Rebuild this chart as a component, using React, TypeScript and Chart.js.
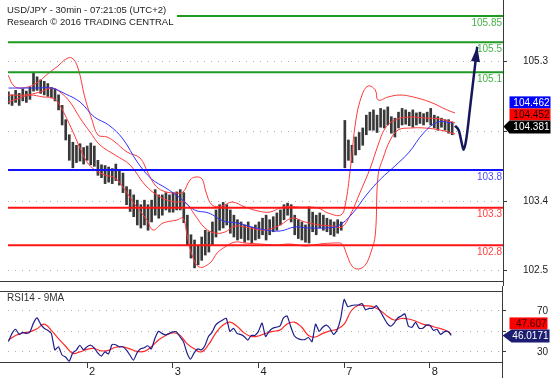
import { useEffect, useRef } from 'react';
import { Chart, registerables } from 'chart.js';

Chart.register(...registerables);

const FONT = '"Liberation Sans", Arial, Helvetica, sans-serif';

// ---- time axis (hours since the start of the first session shown) ----
const X_MIN = 1.87;
const X_MAX = 140.2;
const dayTickHours = [24, 48, 72, 96, 120];
const dayTickLabels = ['2', '3', '4', '7', '8'];

// ---- USD/JPY bars (one per hour, starting at hour 2) ----
const FIRST_BAR_HOUR = 2;
const barHighs = [
  104.84, 104.8, 104.86, 104.82, 104.88, 104.85, 104.9, 105.09, 105.04, 105.0,
  104.98, 104.95, 104.9, 104.88, 104.8, 104.66, 104.47, 104.27, 104.17, 104.13,
  104.15, 104.1, 104.12, 104.16, 104.12, 103.93, 103.87, 103.86, 103.84, 103.82,
  103.88, 103.8, 103.76, 103.58, 103.54, 103.47, 103.4, 103.34, 103.4, 103.34,
  103.4, 103.54, 103.47, 103.47, 103.5, 103.47, 103.5, 103.51, 103.54, 103.5,
  103.2, 102.94, 102.87, 102.8, 102.91, 103.0, 102.98, 103.11, 103.27, 103.34,
  103.37, 103.34, 103.27, 103.2, 103.14, 103.11, 103.07, 103.11, 103.04, 103.07,
  103.11, 103.16, 103.2, 103.14, 103.18, 103.23, 103.27, 103.34, 103.36, 103.34,
  103.2, 103.14, 103.11, 103.07, 103.31, 103.24, 103.2, 103.23, 103.2, 103.16,
  103.14, 103.11, 103.14, 103.11, 104.46, 104.2, 104.13, 104.24, 104.3, 104.36,
  104.53, 104.57, 104.6, 104.53, 104.62, 104.6, 104.64, 104.51, 104.49, 104.57,
  104.62, 104.6, 104.57, 104.6, 104.56, 104.57, 104.55, 104.57, 104.62, 104.53,
  104.51, 104.49, 104.47, 104.47, 104.44,
];
const barLows = [
  104.68, 104.66, 104.7, 104.66, 104.72, 104.7, 104.74, 104.85, 104.86, 104.82,
  104.8, 104.78, 104.76, 104.72, 104.6, 104.4, 104.2, 103.93, 103.83, 103.9,
  103.92, 103.88, 103.93, 103.87, 103.85, 103.73, 103.7, 103.62, 103.64, 103.62,
  103.66, 103.6, 103.5, 103.34, 103.25, 103.18, 103.07, 103.03, 103.07, 103.0,
  103.11, 103.2, 103.16, 103.2, 103.27, 103.24, 103.24, 103.27, 103.27, 103.1,
  102.8, 102.63, 102.5, 102.54, 102.6, 102.67, 102.71, 102.8, 102.91, 103.0,
  103.03, 103.07, 102.96, 102.91, 102.87, 102.89, 102.84, 102.87, 102.83, 102.87,
  102.89, 102.94, 102.87, 102.94, 102.98, 103.0, 103.07, 103.14, 103.2, 103.11,
  102.94, 102.89, 102.87, 102.84, 102.83, 102.98, 102.94, 103.03, 103.0, 102.98,
  102.94, 102.92, 102.96, 103.0, 103.83, 103.93, 103.9, 104.0, 104.07, 104.13,
  104.27, 104.33, 104.33, 104.3, 104.37, 104.36, 104.4, 104.29, 104.24, 104.36,
  104.4, 104.41, 104.39, 104.37, 104.4, 104.42, 104.4, 104.44, 104.4, 104.36,
  104.33, 104.37, 104.33, 104.29, 104.27,
];

// ---- Bollinger bands (red) ----
const upperBandHours = [
  1.87, 3.54, 5.78, 9.41, 13.6, 15.84, 18.08, 19.76, 21.43, 23.39, 25.35, 27.03, 29.54,
  31.78, 35.13, 38.76, 41.0, 42.96, 45.2, 48.55, 50.78, 52.74, 54.42, 56.1, 57.2, 58.9,
  61.7, 64.5, 68.1, 71.75, 75.1, 78.7, 83.5, 88.5, 91.3, 94.9, 96.1, 97.5, 99.1, 100.8,
  102.5, 104.5, 105.3, 108.1, 111.4, 115.1, 119.8, 124.6, 126.8,
];
const upperBandPrices = [
  105.064, 104.918, 104.891, 104.944, 105.104, 105.184, 105.277, 105.29, 105.157, 104.758,
  104.466, 104.266, 104.24, 104.173, 104.04, 103.96, 103.761, 103.601, 103.522, 103.495,
  103.508, 103.668, 103.708, 103.681, 103.508, 103.335, 103.322, 103.375, 103.309, 103.256,
  103.242, 103.309, 103.309, 103.296, 103.229, 103.202, 103.335, 103.801, 104.466, 104.798,
  104.918, 104.865, 104.732, 104.772, 104.798, 104.772, 104.705, 104.599, 104.559,
];
const middleBandHours = [
  1.87, 6.62, 10.8, 14.2, 16.4, 19.2, 22.0, 24.8, 27.6, 31.8, 36.0, 40.2, 44.4, 48.5,
  51.3, 54.1, 56.9, 59.7, 62.5, 65.3, 69.5, 73.7, 77.9, 81.3, 84.9, 89.1, 92.7, 95.2,
  97.5, 100.3, 103.1, 105.3, 107.3, 110.0, 114.2, 118.4, 122.6, 126.8,
];
const middleBandPrices = [
  104.798, 104.798, 104.838, 104.891, 104.838, 104.705, 104.492, 104.306, 104.133, 104.0,
  103.867, 103.601, 103.442, 103.375, 103.375, 103.202, 103.03, 102.963, 102.976, 103.056,
  103.03, 103.003, 103.069, 103.162, 103.109, 103.069, 103.056, 103.043, 103.202, 103.508,
  103.827, 104.133, 104.359, 104.466, 104.506, 104.492, 104.479, 104.426,
];
const lowerBandHours = [
  1.87, 5.22, 8.02, 11.65, 14.2, 15.84, 17.8, 20.04, 22.0, 23.95, 26.2, 29.0, 31.8,
  34.57, 37.4, 40.7, 42.4, 45.2, 49.1, 50.8, 51.9, 53.3, 55.3, 58.3, 60.3, 62.5, 65.3,
  68.1, 72.3, 76.5, 80.7, 84.9, 89.1, 93.3, 95.2, 96.6, 98.0, 99.7, 101.7, 103.3, 104.5,
  105.3, 106.7, 108.7, 110.9, 114.3, 118.4, 122.6, 126.8,
];
const lowerBandPrices = [
  104.705, 104.758, 104.798, 104.772, 104.76, 104.7, 104.532, 104.306, 104.093, 103.907,
  103.801, 103.734, 103.694, 103.535, 103.335, 103.136, 103.003, 103.096, 103.136, 103.162,
  102.936, 102.67, 102.511, 102.564, 102.697, 102.777, 102.843, 102.83, 102.817, 102.803,
  102.817, 102.79, 102.817, 102.83, 102.817, 102.67, 102.524, 102.484, 102.537, 102.71,
  102.936, 103.734, 103.96, 104.2, 104.333, 104.359, 104.359, 104.333, 104.28,
];

// ---- moving average (blue), every 4 hours from hour 2 ----
const MA_FIRST_HOUR = 2;
const MA_STEP_HOURS = 4;
const maPrices = [
  104.891, 104.891, 104.891, 104.891, 104.811, 104.705, 104.506, 104.399,
  104.213, 103.907, 103.681, 103.561, 103.428, 103.269, 103.229, 103.123,
  103.096, 103.043, 103.003, 102.99, 103.043, 103.03, 103.03, 103.056,
  103.216, 103.468, 103.681, 103.854, 104.04, 104.293, 104.439, 104.426,
];

// ---- key levels ----
const levelPrices = [105.85, 105.5, 105.1, 103.8, 103.3, 102.8];
const levelLabels = ['105.85', '105.5', '105.1', '103.8', '103.3', '102.8'];
const levelColors = ['#1f9a22', '#1f9a22', '#1f9a22', '#1212ff', '#ff1414', '#ff1414'];
const levelTextColors = ['#48b048', '#48b048', '#48b048', '#4a4aff', '#ff4040', '#ff4040'];

// ---- forecast path (navy arrow) ----
const forecastHours = [126.8, 127.9, 128.8, 129.2, 129.9, 131.0, 133.0];
const forecastPrices = [104.39, 104.32, 104.13, 104.07, 104.2, 104.63, 105.44];

// ---- price axis ----
const PRICE_MIN = 102.325;
const PRICE_MAX = 106.035;
const priceTickValues = [102.471, 103.385, 104.319, 105.241];
const priceTickLabels = ['102.5', '103.4', '', '105.3'];
const priceTagValues = [104.462, 104.452, 104.381];
const priceTagBg = ['#0000ff', '#ff0000', '#000000'];
const priceTagFg = ['#ffffff', '#1a0000', '#ffffff'];

// ---- RSI panel ----
const RSI_FIRST_HOUR = 2;
const rsiValues = [
  40, 48, 52, 47, 49, 48, 49.5, 58, 63, 57,
  53, 51, 48, 32, 35, 27, 25, 21, 29, 31.7,
  36.5, 32, 35, 36.5, 34, 29, 26, 30, 28, 37,
  37, 35, 35, 32, 27, 22, 29, 33, 34, 36,
  33, 43, 50, 48, 46.5, 48, 49.5, 49.5, 45, 40,
  29, 23, 29, 33, 32, 36, 45, 49, 56, 59,
  61, 62.6, 50, 53, 48, 47, 45, 41.5, 46, 46,
  50, 58, 45, 50, 53, 54, 55, 63, 65, 55,
  46, 43, 42, 42, 44, 40, 57, 50, 54, 56,
  53, 47, 51, 62, 81, 74, 75, 75.6, 75.6, 77,
  71, 72.3, 72.3, 75, 70, 64, 58, 55, 58, 63,
  65, 67, 55, 54, 59, 53, 53, 56, 56, 51,
  52, 47, 49.5, 50, 46.0171,
];
const RSI_MA_FIRST_HOUR = 2;
const RSI_MA_STEP_HOURS = 2;
const rsiMaValues = [
  41.5, 46, 48.5, 49.5, 52.5, 57, 51, 43, 35.5, 28.5,
  30, 32.5, 33.3, 31, 31.5, 34.5, 35, 33, 30.5, 30.5,
  35, 41.5, 46, 48.6, 46.3, 38, 33, 30, 37, 48,
  56, 59, 55, 48.5, 45, 45.5, 48, 50, 51.2, 57,
  59, 54.5, 46, 44.5, 48, 50.5, 52, 57, 70, 75.3,
  74.8, 74, 70.5, 65, 61, 62.5, 62, 60, 57, 55.5,
  53.5, 51.5, 47.6,
];
const RSI_MIN = 20.2;
const RSI_MAX = 89.2;
const rsiTickValues = [30, 50, 70];
const rsiTickLabels = ['30', '', '70'];
const rsiTagValues = [47.607, 46.0171];
const rsiTagBg = ['#ff0000', '#1c1c70'];
const rsiTagFg = ['#3a0000', '#ffffff'];

const titleLines = ['USD/JPY - 30min - 07:21:05 (UTC+2)', 'Research \u00a9 2016 TRADING CENTRAL'];
const rsiTitle = 'RSI14 - 9MA';

const pts = (xs: number[], ys: number[]) => xs.map((x, i) => ({ x, y: ys[i] }));
const stepPts = (first: number, step: number, ys: number[]) => ys.map((y, i) => ({ x: first + i * step, y }));

const AXIS_COLOR = '#3a3a3a';

const noPad = (s: any) => {
  s.paddingTop = 0;
  s.paddingBottom = 0;
  s.paddingLeft = 0;
  s.paddingRight = 0;
};

const mainDecor = {
  id: 'mainDecor',
  beforeDatasetsDraw(chart: any) {
    const { ctx, chartArea, scales } = chart;
    ctx.save();
    ctx.font = `10px ${FONT}`;
    ctx.textAlign = 'right';
    ctx.textBaseline = 'top';
    levelPrices.forEach((p, i) => {
      ctx.fillStyle = levelTextColors[i];
      ctx.fillText(levelLabels[i], chartArea.right - 1, scales.y.getPixelForValue(p) + 2);
    });
    ctx.restore();
  },
  afterDatasetsDraw(chart: any) {
    const { ctx, chartArea, scales } = chart;
    const xs = scales.x;
    const ys = scales.y;
    ctx.save();
    // arrow head on forecast
    const n = forecastHours.length;
    const tx = xs.getPixelForValue(forecastHours[n - 1]);
    const ty = ys.getPixelForValue(forecastPrices[n - 1]);
    const px = xs.getPixelForValue(forecastHours[n - 2]);
    const py = ys.getPixelForValue(forecastPrices[n - 2]);
    const a = Math.atan2(ty - py, tx - px);
    const len = 15;
    const hw = 4.5;
    ctx.fillStyle = '#16165c';
    ctx.beginPath();
    ctx.moveTo(tx, ty);
    ctx.lineTo(tx - len * Math.cos(a) + hw * Math.sin(a), ty - len * Math.sin(a) - hw * Math.cos(a));
    ctx.lineTo(tx - len * Math.cos(a) - hw * Math.sin(a), ty - len * Math.sin(a) + hw * Math.cos(a));
    ctx.closePath();
    ctx.fill();

    // title block
    ctx.fillStyle = '#ffffff';
    ctx.fillRect(0, 0, 177, 29);
    ctx.fillStyle = '#222';
    ctx.font = `9.5px ${FONT}`;
    ctx.textAlign = 'left';
    ctx.textBaseline = 'top';
    ctx.fillText(titleLines[0], 7, 6);
    ctx.fillText(titleLines[1], 7, 18);

    // axis line full height + bottom border
    const ax = Math.round(ys.left) + 0.5;
    ctx.strokeStyle = AXIS_COLOR;
    ctx.lineWidth = 1;
    ctx.beginPath();
    ctx.moveTo(ax, 0);
    ctx.lineTo(ax, chart.height);
    ctx.moveTo(0, Math.round(chartArea.bottom) + 0.5);
    ctx.lineTo(ax, Math.round(chartArea.bottom) + 0.5);
    ctx.stroke();

    // price tags
    const yb = ys.getPixelForValue(priceTagValues[2]);
    const h = 12;
    const bx = ax + 6;
    const bw = 41;
    const tops = [yb - h / 2 - 2 * h, yb - h / 2 - h, yb - h / 2];
    ctx.font = `10px ${FONT}`;
    ctx.textAlign = 'right';
    ctx.textBaseline = 'middle';
    priceTagValues.forEach((v, i) => {
      ctx.fillStyle = priceTagBg[i];
      if (i === 2) {
        ctx.beginPath();
        ctx.moveTo(ax, yb);
        ctx.lineTo(bx, tops[i]);
        ctx.lineTo(bx + bw, tops[i]);
        ctx.lineTo(bx + bw, tops[i] + h + 1);
        ctx.lineTo(bx, tops[i] + h + 1);
        ctx.closePath();
        ctx.fill();
      } else {
        ctx.fillRect(bx, tops[i], bw, h);
      }
      ctx.fillStyle = priceTagFg[i];
      ctx.fillText(v.toFixed(3), bx + bw - 1, tops[i] + h / 2 + 0.5);
    });
    ctx.restore();
  },
};

const rsiDecor = {
  id: 'rsiDecor',
  afterDatasetsDraw(chart: any) {
    const { ctx, chartArea, scales } = chart;
    const ys = scales.y;
    ctx.save();
    ctx.fillStyle = '#333';
    ctx.font = `10px ${FONT}`;
    ctx.textAlign = 'left';
    ctx.textBaseline = 'top';
    ctx.fillText(rsiTitle, 7, 7);

    const ax = Math.round(ys.left) + 0.5;
    ctx.strokeStyle = AXIS_COLOR;
    ctx.lineWidth = 1;
    ctx.beginPath();
    ctx.moveTo(ax, 0);
    ctx.lineTo(ax, chart.height);
    ctx.moveTo(0, Math.round(chartArea.top) + 0.5);
    ctx.lineTo(ax, Math.round(chartArea.top) + 0.5);
    ctx.moveTo(0, Math.round(chartArea.bottom) + 0.5);
    ctx.lineTo(ax, Math.round(chartArea.bottom) + 0.5);
    ctx.stroke();

    const yb = ys.getPixelForValue(rsiTagValues[1]);
    const h = 12;
    const tops = [yb - h / 2 - h, yb - h / 2];
    const lefts = [ax + 7, ax + 9];
    const rights = [ax + 45, ax + 47];
    ctx.font = `10px ${FONT}`;
    ctx.textAlign = 'right';
    ctx.textBaseline = 'middle';
    rsiTagValues.forEach((v, i) => {
      ctx.fillStyle = rsiTagBg[i];
      if (i === 1) {
        ctx.beginPath();
        ctx.moveTo(ax, yb);
        ctx.lineTo(lefts[i], tops[i]);
        ctx.lineTo(rights[i], tops[i]);
        ctx.lineTo(rights[i], tops[i] + h + 1);
        ctx.lineTo(lefts[i], tops[i] + h + 1);
        ctx.closePath();
        ctx.fill();
      } else {
        ctx.fillRect(lefts[i], tops[i], rights[i] - lefts[i], h);
      }
      ctx.fillStyle = rsiTagFg[i];
      ctx.fillText(i === 1 ? v.toFixed(4) : v.toFixed(3), rights[i] - 1, tops[i] + h / 2 + 0.5);
    });
    ctx.restore();
  },
};

export default function App() {
  const mainRef = useRef<HTMLCanvasElement | null>(null);
  const rsiRef = useRef<HTMLCanvasElement | null>(null);

  useEffect(() => {
    Chart.defaults.font.family = FONT;
    const mainCanvas = mainRef.current;
    const rsiCanvas = rsiRef.current;
    if (!mainCanvas || !rsiCanvas) return;

    const bandStyle = { type: 'line', borderColor: '#ff3a3a', borderWidth: 1, pointRadius: 0, tension: 0.4, fill: false };

    const main = new Chart(mainCanvas, {
      type: 'bar',
      data: {
        datasets: [
          {
            type: 'line',
            data: pts(forecastHours, forecastPrices),
            borderColor: '#16165c',
            borderWidth: 2.5,
            pointRadius: 0,
            cubicInterpolationMode: 'monotone',
          },
          ...levelPrices.map((p, i) => ({
            type: 'line',
            data: [{ x: X_MIN, y: p }, { x: X_MAX, y: p }],
            borderColor: levelColors[i],
            borderWidth: 2,
            pointRadius: 0,
          })),
          {
            type: 'line',
            data: stepPts(MA_FIRST_HOUR, MA_STEP_HOURS, maPrices),
            borderColor: '#3333ff',
            borderWidth: 1,
            pointRadius: 0,
            tension: 0.4,
          },
          { ...bandStyle, data: pts(upperBandHours, upperBandPrices) },
          { ...bandStyle, data: pts(middleBandHours, middleBandPrices) },
          { ...bandStyle, data: pts(lowerBandHours, lowerBandPrices) },
          {
            type: 'bar',
            data: barHighs.map((hi, i) => ({ x: FIRST_BAR_HOUR + i, y: [barLows[i], hi] })),
            backgroundColor: '#383838',
            barThickness: 2,
          },
        ] as any,
      },
      options: {
        responsive: false,
        animation: false,
        events: [],
        layout: { padding: { left: 8, top: 2, right: 9, bottom: 5 } },
        plugins: { legend: { display: false }, tooltip: { enabled: false } },
        scales: {
          x: { type: 'linear', min: X_MIN, max: X_MAX, display: false, offset: false },
          y: {
            position: 'right',
            min: PRICE_MIN,
            max: PRICE_MAX,
            afterFit: (s: any) => { s.width = 45; noPad(s); },
            afterBuildTicks: (s: any) => { s.ticks = priceTickValues.map((v) => ({ value: v })); },
            ticks: {
              callback: (_v: any, i: number) => priceTickLabels[i],
              crossAlign: 'far',
              font: { size: 10, family: FONT },
              color: '#222',
            },
            grid: { color: '#b0b0b0', tickColor: AXIS_COLOR, tickLength: 4, tickBorderDash: [] },
            border: { display: true, color: AXIS_COLOR, dash: [1, 6] },
          },
        },
      } as any,
      plugins: [mainDecor],
    });

    const rsi = new Chart(rsiCanvas, {
      type: 'line',
      data: {
        datasets: [
          {
            data: stepPts(RSI_FIRST_HOUR, 1, rsiValues),
            borderColor: '#1e1e8c',
            borderWidth: 1.2,
            pointRadius: 0,
            tension: 0.2,
          },
          {
            data: stepPts(RSI_MA_FIRST_HOUR, RSI_MA_STEP_HOURS, rsiMaValues),
            borderColor: '#ff2a2a',
            borderWidth: 1.2,
            pointRadius: 0,
            tension: 0.4,
          },
        ],
      },
      options: {
        responsive: false,
        animation: false,
        events: [],
        layout: { padding: { left: 8, top: 5, right: 9, bottom: 0 } },
        plugins: { legend: { display: false }, tooltip: { enabled: false } },
        scales: {
          x: {
            type: 'linear',
            position: 'bottom',
            min: X_MIN,
            max: X_MAX,
            afterFit: (s: any) => { s.height = 16; noPad(s); },
            afterBuildTicks: (s: any) => { s.ticks = dayTickHours.map((v) => ({ value: v })); },
            ticks: {
              callback: (_v: any, i: number) => dayTickLabels[i],
              align: 'start',
              labelOffset: 2,
              padding: -3,
              maxRotation: 0,
              font: { size: 11, family: FONT },
              color: '#222',
            },
            grid: { drawOnChartArea: false, tickColor: AXIS_COLOR, tickLength: 6 },
            border: { display: true, color: AXIS_COLOR },
          },
          y: {
            position: 'right',
            min: RSI_MIN,
            max: RSI_MAX,
            afterFit: (s: any) => { s.width = 46; noPad(s); },
            afterBuildTicks: (s: any) => { s.ticks = rsiTickValues.map((v) => ({ value: v })); },
            ticks: {
              callback: (_v: any, i: number) => rsiTickLabels[i],
              crossAlign: 'far',
              font: { size: 10, family: FONT },
              color: '#222',
            },
            grid: { color: '#b0b0b0', tickColor: AXIS_COLOR, tickLength: 4, tickBorderDash: [] },
            border: { display: true, color: AXIS_COLOR, dash: [1, 6] },
          },
        },
      } as any,
      plugins: [rsiDecor],
    });

    return () => {
      main.destroy();
      rsi.destroy();
    };
  }, []);

  return (
    <div style={{ position: 'fixed', left: 0, top: 0, width: 557, height: 378, background: '#fff' }}>
      <canvas ref={mainRef} width={557} height={286} style={{ display: 'block' }} />
      <canvas ref={rsiRef} width={557} height={92} style={{ display: 'block' }} />
    </div>
  );
}
